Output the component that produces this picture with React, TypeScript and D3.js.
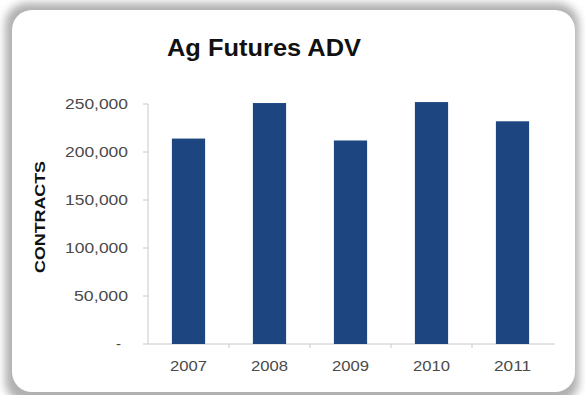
import React from "react";
import * as d3 from "d3";

const categories = ["2007", "2008", "2009", "2010", "2011"];
const values = [214000, 251000, 212000, 252000, 232000];
const yTicks = [0, 50000, 100000, 150000, 200000, 250000];
const yTickLabels = ["-", "50,000", "100,000", "150,000", "200,000", "250,000"];
const title = "Ag Futures ADV";
const yTitle = "CONTRACTS";

export default function App() {
  const W = 585, H = 395;
  const x = d3.scaleBand<string>().domain(categories).range([148, 553]).paddingInner(0.59).paddingOuter(0.295);
  const y = d3.scaleLinear().domain([0, 250000]).range([344, 104]);
  const step = x.step();
  const font = "'Liberation Sans', Arial, sans-serif";
  return (
    <svg width={W} height={H} style={{ position: "absolute", left: 0, top: 0 }}>
      <defs>
        <filter id="sh" x="-10%" y="-10%" width="120%" height="120%">
          <feGaussianBlur stdDeviation="4" />
        </filter>
      </defs>
      <rect width={W} height={H} fill="#ffffff" />
      <rect x={5} y={3} width={574} height={400} rx={22} fill="#b0b0b0" filter="url(#sh)" />
      <rect x={12} y={10} width={563} height={382} rx={20} fill="#ffffff" />
      <text x={264} y={56} textAnchor="middle" fontFamily={font} fontWeight="bold" fontSize={23} textLength={194} lengthAdjust="spacingAndGlyphs" fill="#111">{title}</text>
      <text transform={`translate(45,217) rotate(-90)`} textAnchor="middle" fontFamily={font} fontWeight="bold" fontSize={15} textLength={112} lengthAdjust="spacingAndGlyphs" fill="#111">{yTitle}</text>
      {/* y axis */}
      <line x1={148} x2={148} y1={104} y2={344} stroke="#c8c8c8" strokeWidth={1} />
      {yTicks.map((t, i) => (
        <g key={t}>
          <line x1={143} x2={148} y1={y(t)} y2={y(t)} stroke="#c8c8c8" />
          <text x={i === 0 ? 121 : 128} y={y(t) + 5} textAnchor="end" fontFamily={font} fontSize={15} fill="#4a4a4a"
            textLength={i === 0 ? undefined : (yTickLabels[i].length === 7 ? 63 : 54)} lengthAdjust="spacingAndGlyphs">{yTickLabels[i]}</text>
        </g>
      ))}
      {/* x axis */}
      <line x1={148} x2={555} y1={344} y2={344} stroke="#c8c8c8" />
      {categories.slice(1).map((c) => (
        <line key={c} x1={(x(c) as number) - (step - x.bandwidth()) / 2} x2={(x(c) as number) - (step - x.bandwidth()) / 2} y1={344} y2={348} stroke="#c8c8c8" />
      ))}
      {categories.map((c, i) => (
        <rect key={c} x={x(c)} y={y(values[i])} width={x.bandwidth()} height={344 - y(values[i])} fill="#1d4681" />
      ))}
      {categories.map((c) => (
        <text key={c} x={(x(c) as number) + x.bandwidth() / 2} y={371} textAnchor="middle" fontFamily={font} fontSize={15} textLength={37} lengthAdjust="spacingAndGlyphs" fill="#4a4a4a">{c}</text>
      ))}
    </svg>
  );
}
